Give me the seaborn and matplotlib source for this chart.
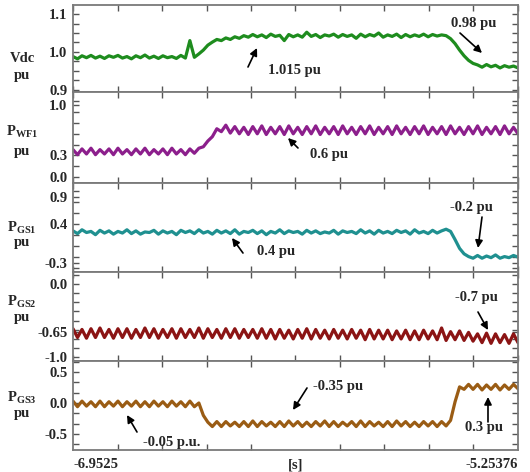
import numpy as np
import pandas as pd
import seaborn as sns
import matplotlib.pyplot as plt
from matplotlib.ticker import MultipleLocator, FixedLocator

# time window of the record [s]
t_start = -6.9525
t_end = -5.25376
n_samples = 100

# signals (pu), one value per sample
vdc = [0.988, 0.982, 0.990, 0.985, 0.991, 0.984, 0.989, 0.983, 0.990, 0.986,
       0.991, 0.984, 0.988, 0.982, 0.990, 0.985, 0.992, 0.984, 0.989, 0.983,
       0.990, 0.985, 0.988, 0.983, 0.991, 0.984, 1.030, 0.986, 0.995, 1.005,
       1.018, 1.026, 1.033, 1.030, 1.037, 1.033, 1.040, 1.036, 1.043, 1.039,
       1.046, 1.040, 1.045, 1.038, 1.047, 1.041, 1.044, 1.030, 1.046, 1.040,
       1.045, 1.039, 1.052, 1.041, 1.046, 1.038, 1.045, 1.042, 1.047, 1.039,
       1.046, 1.041, 1.045, 1.036, 1.047, 1.040, 1.046, 1.042, 1.050, 1.039,
       1.045, 1.041, 1.047, 1.038, 1.046, 1.040, 1.045, 1.041, 1.047, 1.040,
       1.046, 1.042, 1.045, 1.043, 1.035, 1.022, 1.005, 0.990, 0.978, 0.970,
       0.966, 0.960, 0.967, 0.961, 0.965, 0.958, 0.964, 0.960, 0.963, 0.958]

p_wf1 = [0.38, 0.31, 0.39, 0.32, 0.40, 0.31, 0.38, 0.32, 0.39, 0.31,
         0.40, 0.32, 0.38, 0.31, 0.39, 0.32, 0.40, 0.31, 0.38, 0.32,
         0.39, 0.31, 0.40, 0.32, 0.38, 0.31, 0.39, 0.33, 0.40, 0.42,
         0.50, 0.56, 0.67, 0.63, 0.72, 0.61, 0.70, 0.60, 0.69, 0.59,
         0.70, 0.60, 0.71, 0.59, 0.69, 0.60, 0.70, 0.59, 0.71, 0.60,
         0.69, 0.59, 0.70, 0.60, 0.71, 0.59, 0.69, 0.60, 0.70, 0.59,
         0.71, 0.60, 0.69, 0.59, 0.70, 0.60, 0.71, 0.59, 0.69, 0.60,
         0.70, 0.59, 0.71, 0.60, 0.69, 0.59, 0.70, 0.60, 0.71, 0.59,
         0.69, 0.60, 0.70, 0.59, 0.71, 0.60, 0.69, 0.59, 0.70, 0.60,
         0.71, 0.59, 0.69, 0.60, 0.70, 0.59, 0.71, 0.60, 0.69, 0.60]

p_gs1 = [0.28, 0.23, 0.30, 0.25, 0.27, 0.21, 0.29, 0.24, 0.28, 0.22,
         0.27, 0.24, 0.30, 0.23, 0.28, 0.22, 0.26, 0.25, 0.29, 0.22,
         0.28, 0.24, 0.27, 0.21, 0.29, 0.25, 0.28, 0.23, 0.30, 0.24,
         0.27, 0.22, 0.29, 0.24, 0.28, 0.23, 0.30, 0.22, 0.27, 0.25,
         0.29, 0.23, 0.28, 0.21, 0.27, 0.24, 0.30, 0.23, 0.28, 0.25,
         0.27, 0.22, 0.29, 0.24, 0.28, 0.23, 0.26, 0.24, 0.29, 0.22,
         0.28, 0.25, 0.27, 0.23, 0.30, 0.24, 0.28, 0.22, 0.29, 0.24,
         0.27, 0.23, 0.29, 0.25, 0.28, 0.22, 0.30, 0.24, 0.27, 0.23,
         0.29, 0.24, 0.28, 0.31, 0.27, 0.12, -0.04, -0.14, -0.19, -0.22,
         -0.17, -0.22, -0.18, -0.21, -0.16, -0.22, -0.19, -0.21, -0.17, -0.20]

p_gs2 = [-0.61, -0.73, -0.62, -0.74, -0.61, -0.73, -0.60, -0.73, -0.62, -0.74,
         -0.61, -0.73, -0.61, -0.74, -0.62, -0.73, -0.60, -0.73, -0.61, -0.74,
         -0.62, -0.73, -0.61, -0.74, -0.61, -0.73, -0.62, -0.73, -0.60, -0.74,
         -0.61, -0.73, -0.62, -0.74, -0.61, -0.73, -0.61, -0.74, -0.62, -0.73,
         -0.62, -0.74, -0.61, -0.74, -0.62, -0.75, -0.62, -0.74, -0.63, -0.75,
         -0.62, -0.74, -0.61, -0.75, -0.62, -0.74, -0.63, -0.75, -0.62, -0.74,
         -0.63, -0.75, -0.62, -0.74, -0.63, -0.76, -0.62, -0.75, -0.63, -0.75,
         -0.63, -0.76, -0.64, -0.75, -0.63, -0.76, -0.64, -0.76, -0.63, -0.75,
         -0.64, -0.76, -0.60, -0.77, -0.65, -0.76, -0.64, -0.77, -0.66, -0.78,
         -0.68, -0.80, -0.67, -0.81, -0.68, -0.80, -0.69, -0.81, -0.68, -0.80]

p_gs3 = [0.03, -0.06, 0.03, -0.05, 0.02, -0.06, 0.03, -0.06, 0.02, -0.05,
         0.03, -0.06, 0.02, -0.05, 0.03, -0.06, 0.02, -0.06, 0.03, -0.05,
         0.02, -0.06, 0.03, -0.05, 0.02, -0.06, 0.03, -0.06, 0.00, -0.20,
         -0.31, -0.38, -0.30, -0.38, -0.30, -0.37, -0.31, -0.38, -0.30, -0.38,
         -0.29, -0.38, -0.30, -0.37, -0.31, -0.38, -0.30, -0.38, -0.29, -0.37,
         -0.30, -0.38, -0.31, -0.38, -0.30, -0.37, -0.29, -0.38, -0.30, -0.38,
         -0.31, -0.37, -0.30, -0.38, -0.29, -0.38, -0.30, -0.37, -0.31, -0.38,
         -0.30, -0.38, -0.29, -0.37, -0.30, -0.38, -0.31, -0.38, -0.30, -0.37,
         -0.30, -0.38, -0.30, -0.37, -0.28, 0.02, 0.26, 0.22, 0.30, 0.22,
         0.30, 0.21, 0.29, 0.22, 0.30, 0.21, 0.29, 0.22, 0.30, 0.23]

series = [vdc, p_wf1, p_gs1, p_gs2, p_gs3]
names = ['Vdc', r'$\mathbf{P}_{\mathbf{WF1}}$', r'$\mathbf{P}_{\mathbf{GS1}}$',
         r'$\mathbf{P}_{\mathbf{GS2}}$', r'$\mathbf{P}_{\mathbf{GS3}}$']
colors = ['#1e8c1e', '#8c1f8c', '#1f9090', '#8b1414', '#9a5c14']

ytick_values = [[1.1, 1.0, 0.9], [1.0, 0.3, 0.0], [0.9, 0.4, -0.3],
                [0.0, -0.65, -1.0], [0.5, 0.0, -0.5]]
ytick_labels = [['1.1', '1.0', '0.9'], ['1.0', '0.3', '0.0'], ['0.9', '0.4', '-0.3'],
                ['0.0', '-0.65', '-1.0'], ['0.5', '0.0', '-0.5']]

# annotations: (panel, text, text pos, arrow tail, arrow head, text ha)
notes = [
    (0, '1.015 pu', (-6.2081, 0.9526), (-6.2845, 0.9605), (-6.2501, 1.0105), 'left'),
    (0, '0.98 pu', (-5.4217, 1.0763), (-5.4752, 1.050), (-5.3912, 0.9974), 'center'),
    (1, '0.6 pu', (-6.0478, 0.3056), (-6.0936, 0.403), (-6.1318, 0.5417), 'left'),
    (2, '0.4 pu', (-6.2501, -0.106), (-6.3036, -0.125), (-6.3455, 0.150), 'left'),
    (2, '-0.2 pu', (-5.4332, 0.716), (-5.3912, 0.533), (-5.4065, -0.033), 'center'),
    (3, '-0.7 pu', (-5.4141, -0.191), (-5.4065, -0.382), (-5.3683, -0.628), 'center'),
    (4, '-0.05 p.u.', (-6.6853, -0.645), (-6.7082, -0.468), (-6.7464, -0.194), 'left'),
    (4, '-0.35 pu', (-6.0363, 0.258), (-6.0592, 0.242), (-6.1127, -0.113), 'left'),
    (4, '0.3 pu', (-5.4561, -0.403), (-5.3683, -0.306), (-5.3683, 0.097), 'left'),
]

# layout (pixels of a 530x472 canvas)
W, H = 530, 472
panel_px = [(5, 92), (92, 183), (183, 272), (272, 361), (361, 450)]
ylims = [(0.8947, 1.1237), (-0.0833, 1.1806), (-0.472, 1.155), (-1.0505, 0.1637), (-0.758, 0.677)]
minor_steps = [0.025, 0.15, 0.2, 0.125, 1 / 6]
name_px = [(58, 75), (132, 152), (228, 243), (302, 317), (398, 413)]

sns.set_style('ticks')
plt.rcParams['font.family'] = ['Liberation Serif', 'DejaVu Serif']
plt.rcParams['font.weight'] = 'bold'
plt.rcParams['mathtext.fontset'] = 'custom'
plt.rcParams['mathtext.bf'] = 'Liberation Serif:bold'
plt.rcParams['mathtext.rm'] = 'Liberation Serif:bold'

fs = 10.5
t = np.linspace(t_start, t_end, n_samples)

fig = plt.figure(figsize=(W / 100, H / 100), dpi=100)
axes = []
for k in range(5):
    top, bot = panel_px[k]
    ax = fig.add_axes([73 / W, 1 - bot / H, 445 / W, (bot - top) / H])
    df = pd.DataFrame({'t': t, 'v': series[k]})
    sns.lineplot(data=df, x='t', y='v', ax=ax, color=colors[k], lw=2.3)
    ax.set_xlim(t_start, t_end)
    ax.set_ylim(*ylims[k])
    ax.set_xlabel('')
    ax.set_ylabel('')
    ax.set_yticks(ytick_values[k])
    ax.set_yticklabels(ytick_labels[k], fontsize=fs, fontweight='bold')
    ax.yaxis.set_minor_locator(MultipleLocator(minor_steps[k]))
    ax.xaxis.set_minor_locator(FixedLocator(np.linspace(t_start, t_end, 11)))
    ax.tick_params(which='both', direction='in', left=True, right=True, top=True,
                   bottom=True, length=4, width=1, color='#555555', pad=4)
    for s in ax.spines.values():
        s.set_color('#7a7a7a')
        s.set_linewidth(1.3)
    if k < 4:
        ax.set_xticks([])
    else:
        ax.set_xticks([t_start, (t_start + t_end) / 2, t_end])
        ax.set_xticklabels(['-6.9525', '[s]', '-5.25376'], fontsize=fs, fontweight='bold')
        ax.tick_params(axis='x', which='major', length=0, pad=6)
        xl = ax.get_xticklabels()
        xl[0].set_ha('left')
        xl[2].set_ha('right')

    fig.text(22 / W, 1 - name_px[k][0] / H, names[k], ha='center', va='center',
             fontsize=fs, fontweight='bold')
    fig.text(22 / W, 1 - name_px[k][1] / H, 'pu', ha='center', va='center',
             fontsize=fs, fontweight='bold')
    axes.append(ax)

for k, txt, pos, tail, head, ha in notes:
    ax = axes[k]
    ax.text(pos[0], pos[1], txt, ha=ha, va='center', fontsize=fs, fontweight='bold')
    ax.annotate('', xy=head, xytext=tail,
                arrowprops=dict(arrowstyle='-|>', color='black', lw=1.2,
                                mutation_scale=11, shrinkA=0, shrinkB=0))

fig.savefig('out.png', dpi=100)
